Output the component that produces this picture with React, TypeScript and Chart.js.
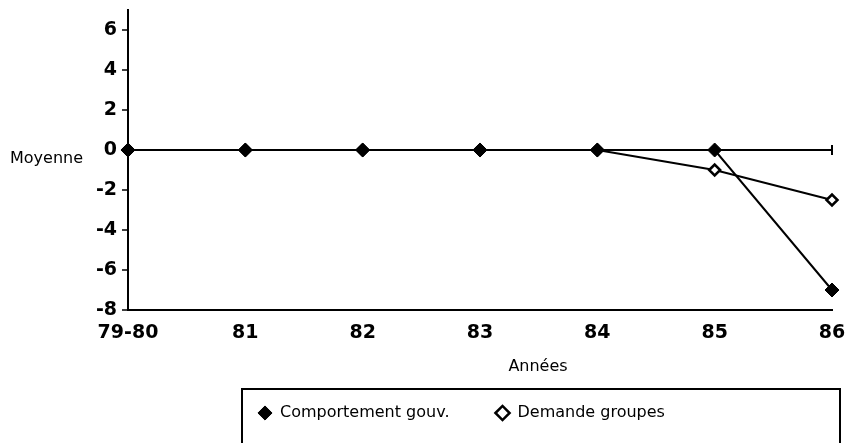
import { useEffect, useRef } from "react";
import { Chart, registerables } from "chart.js";

Chart.register(...registerables);

const years = ["79-80", "81", "82", "83", "84", "85", "86"];
const comportementGouv = [0, 0, 0, 0, 0, 0, -7];
const demandeGroupes = [0, 0, 0, 0, 0, -1, -2.5];
const seriesNames = ["Comportement gouv.", "Demande groupes"];
const yTitle = "Moyenne";
const xTitle = "Années";
const yMin = -8;
const yMax = 7;
const yStep = 2;

const FONT = "'DejaVu Sans', sans-serif";

const decorPlugin = {
  id: "decor",
  afterLayout(chart: any) {
    const lg = chart.legend;
    if (lg) {
      lg.left = 212;
      lg.top = 359;
      lg.right = 846;
      lg.bottom = 443;
      lg.width = 634;
      lg.height = 84;
    }
  },
  afterDraw(chart: any) {
    const { ctx, chartArea } = chart;
    const y0 = chart.scales.y.getPixelForValue(0);
    ctx.save();
    ctx.strokeStyle = "#000";
    ctx.lineWidth = 2;
    ctx.beginPath();
    ctx.moveTo(chartArea.right, y0 - 5);
    ctx.lineTo(chartArea.right, y0 + 5);
    ctx.stroke();
    ctx.strokeRect(242, 389, 598, 100);
    ctx.fillStyle = "#000";
    ctx.font = "16px " + FONT;
    ctx.textBaseline = "middle";
    ctx.textAlign = "left";
    ctx.fillText(yTitle, 10, y0 + 9);
    ctx.textAlign = "center";
    ctx.fillText(xTitle, 538, 367);
    ctx.restore();
  },
};

export default function App() {
  const ref = useRef<HTMLCanvasElement | null>(null);

  useEffect(() => {
    if (!ref.current) return;
    Chart.defaults.font.family = FONT;
    const chart = new Chart(ref.current, {
      type: "line",
      data: {
        labels: years,
        datasets: [
          {
            label: seriesNames[0],
            data: comportementGouv,
            borderColor: "#000",
            borderWidth: 2,
            pointStyle: "rectRot",
            pointRadius: 7,
            pointBackgroundColor: "#000",
            pointBorderColor: "#000",
            pointBorderWidth: 1,
            tension: 0,
            clip: false,
          } as any,
          {
            label: seriesNames[1],
            data: demandeGroupes,
            borderColor: "#000",
            borderWidth: 2,
            pointStyle: "rectRot",
            pointRadius: 5.5,
            pointBackgroundColor: "#fff",
            pointBorderColor: "#000",
            pointBorderWidth: 2.5,
            tension: 0,
            clip: false,
          } as any,
        ],
      },
      options: {
        responsive: false,
        animation: false,
        events: [],
        layout: { padding: { left: 0, right: 14, top: 10, bottom: 0 } },
        plugins: {
          legend: {
            display: true,
            position: "bottom",
            align: "start",
            maxHeight: 1,
            labels: {
              color: "#000",
              font: { size: 16, family: FONT },
              usePointStyle: true,
              boxWidth: 14,
              boxHeight: 10,
              padding: 46,
            },
          } as any,
          tooltip: { enabled: false },
          title: { display: false },
        },
        scales: {
          x: {
            type: "category",
            offset: false,
            grid: { display: false, drawTicks: false },
            border: { display: true, color: "#000", width: 2 },
            ticks: {
              color: "#000",
              font: { size: 19, family: FONT, weight: "bold" },
              padding: 12,
              maxRotation: 0,
              autoSkip: false,
            },
            afterFit(scale: any) {
              scale.height = 132;
              scale.paddingLeft = 0;
              scale.paddingRight = 0;
            },
          },
          y: {
            min: yMin,
            max: yMax,
            ticks: {
              stepSize: yStep,
              includeBounds: false,
              color: "#000",
              font: { size: 19, family: FONT, weight: "bold" },
              padding: 5,
            },
            grid: {
              color: (c: any) =>
                c.tick && c.tick.value === 0 ? "#000" : "rgba(0,0,0,0)",
              lineWidth: 2,
              tickColor: "#000",
              tickLength: 6,
              tickWidth: 1.5,
            },
            border: { display: true, color: "#000", width: 2 },
            afterFit(scale: any) {
              scale.width = 128;
              scale.paddingTop = 0;
              scale.paddingBottom = 0;
            },
          },
        },
      },
      plugins: [decorPlugin],
    });
    return () => chart.destroy();
  }, []);

  return (
    <div style={{ position: "absolute", left: 0, top: 0, width: 846, height: 443, background: "#fff" }}>
      <canvas ref={ref} width={846} height={443} />
    </div>
  );
}
